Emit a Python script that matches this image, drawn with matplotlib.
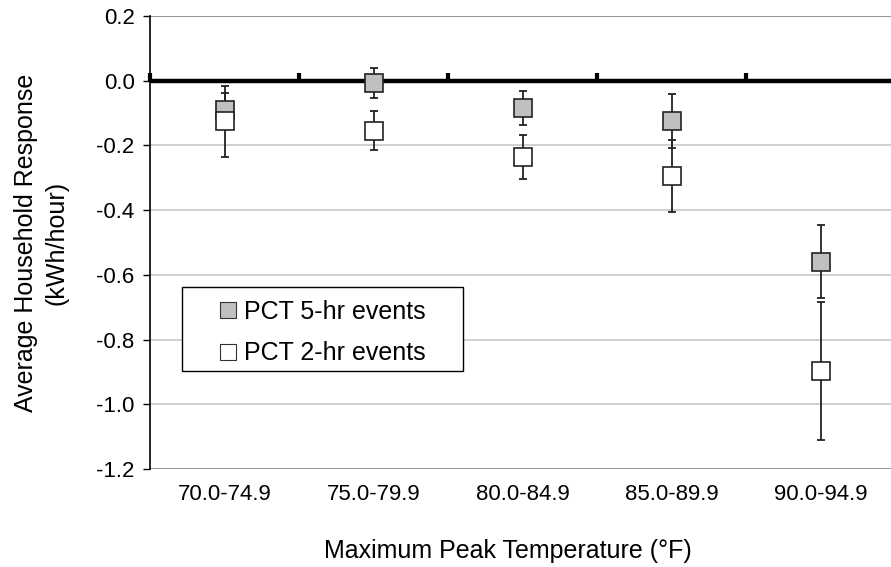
import matplotlib
matplotlib.use("Agg")
import matplotlib.pyplot as plt
from matplotlib.lines import Line2D
from matplotlib.patches import Rectangle
import numpy as np

plt.rcParams['font.family'] = ['Liberation Sans', 'DejaVu Sans']

categories = ["70.0-74.9", "75.0-79.9", "80.0-84.9", "85.0-89.9", "90.0-94.9"]
pct5_mean = [-0.089, -0.007, -0.084, -0.124, -0.559]
pct5_err = [0.052, 0.046, 0.053, 0.083, 0.114]
pct2_mean = [-0.126, -0.154, -0.236, -0.295, -0.896]
pct2_err = [0.109, 0.060, 0.067, 0.112, 0.213]
yticks = [0.2, 0.0, -0.2, -0.4, -0.6, -0.8, -1.0, -1.2]

W, H = 891, 567
fig = plt.figure(figsize=(W / 100, H / 100), dpi=100)
ax = fig.add_axes([150 / W, (H - 469) / H, 745 / W, 453 / H])

x = np.arange(len(categories))
ax.set_xlim(-0.5, len(categories) - 0.5)
ax.set_ylim(-1.2, 0.2)

# gridlines
for yv in yticks:
    col = '#808080' if yv in (0.2, -1.2) else '#c8c8c8'
    if yv != 0.0:
        ax.axhline(yv, color=col, lw=1.2, zorder=0.5)

# zero line
ax.axhline(0.0, color='black', lw=3.2, zorder=1)

# error bars
ax.errorbar(x, pct5_mean, yerr=pct5_err, fmt='none', ecolor='#222222',
            elinewidth=1.3, capsize=2.6, capthick=1.3, zorder=2)
ax.errorbar(x, pct2_mean, yerr=pct2_err, fmt='none', ecolor='#222222',
            elinewidth=1.3, capsize=2.6, capthick=1.3, zorder=2)
# markers
ax.plot(x, pct5_mean, ls='none', marker='s', markersize=13, markerfacecolor='#c0c0c0',
        markeredgecolor='#222222', markeredgewidth=1.2, zorder=3)
ax.plot(x, pct2_mean, ls='none', marker='s', markersize=13, markerfacecolor='white',
        markeredgecolor='#222222', markeredgewidth=1.2, zorder=4)

# spines
for s in ['top', 'right', 'bottom']:
    ax.spines[s].set_visible(False)
ax.spines['left'].set_color('black')
ax.spines['left'].set_linewidth(1.2)

ax.set_yticks(yticks)
ax.set_yticklabels([f"{v:.1f}" for v in yticks])
ax.tick_params(axis='y', direction='out', length=5, width=1, pad=6, labelsize=16)
ax.set_xticks(x)
ax.set_xticklabels(categories)
ax.tick_params(axis='x', length=0, pad=11, labelsize=16)

# category boundary ticks on the zero axis
sec = ax.secondary_xaxis(1.2 / 1.4)
for s in sec.spines.values():
    s.set_visible(False)
sec.set_xticks(np.arange(len(categories) + 1) - 0.5)
sec.set_xticklabels([])
sec.tick_params(axis='x', direction='out', length=6, width=3, color='black')

ax.set_ylabel("Average Household Response\n(kWh/hour)", fontsize=18, labelpad=20,
              linespacing=1.35)
ax.set_xlabel("Maximum Peak Temperature (°F)", fontsize=18, labelpad=24)
ax.xaxis.label.set_x((507.5 - 150) / 745)

# legend
rx0, rw = 32 / 745, 281 / 745
ry0, rh = (469 - 371) / 453, 84 / 453
ax.add_patch(Rectangle((rx0, ry0), rw, rh, transform=ax.transAxes, facecolor='white',
                       edgecolor='black', lw=1, zorder=5))
handles = [
    Line2D([], [], ls='none', marker='s', markersize=11, markerfacecolor='#c0c0c0',
           markeredgecolor='#333333', markeredgewidth=0.8),
    Line2D([], [], ls='none', marker='s', markersize=11, markerfacecolor='white',
           markeredgecolor='#333333', markeredgewidth=0.8),
]
leg = ax.legend(handles, ["PCT 5-hr events", "PCT 2-hr events"], loc='center',
                bbox_to_anchor=(rx0 + rw / 2, ry0 + rh / 2 - 0.008), frameon=False,
                fontsize=18, handlelength=0.7, handletextpad=0.3, labelspacing=0.7,
                borderpad=0.2)
leg.set_zorder(6)

fig.savefig("out.png", dpi=100)
